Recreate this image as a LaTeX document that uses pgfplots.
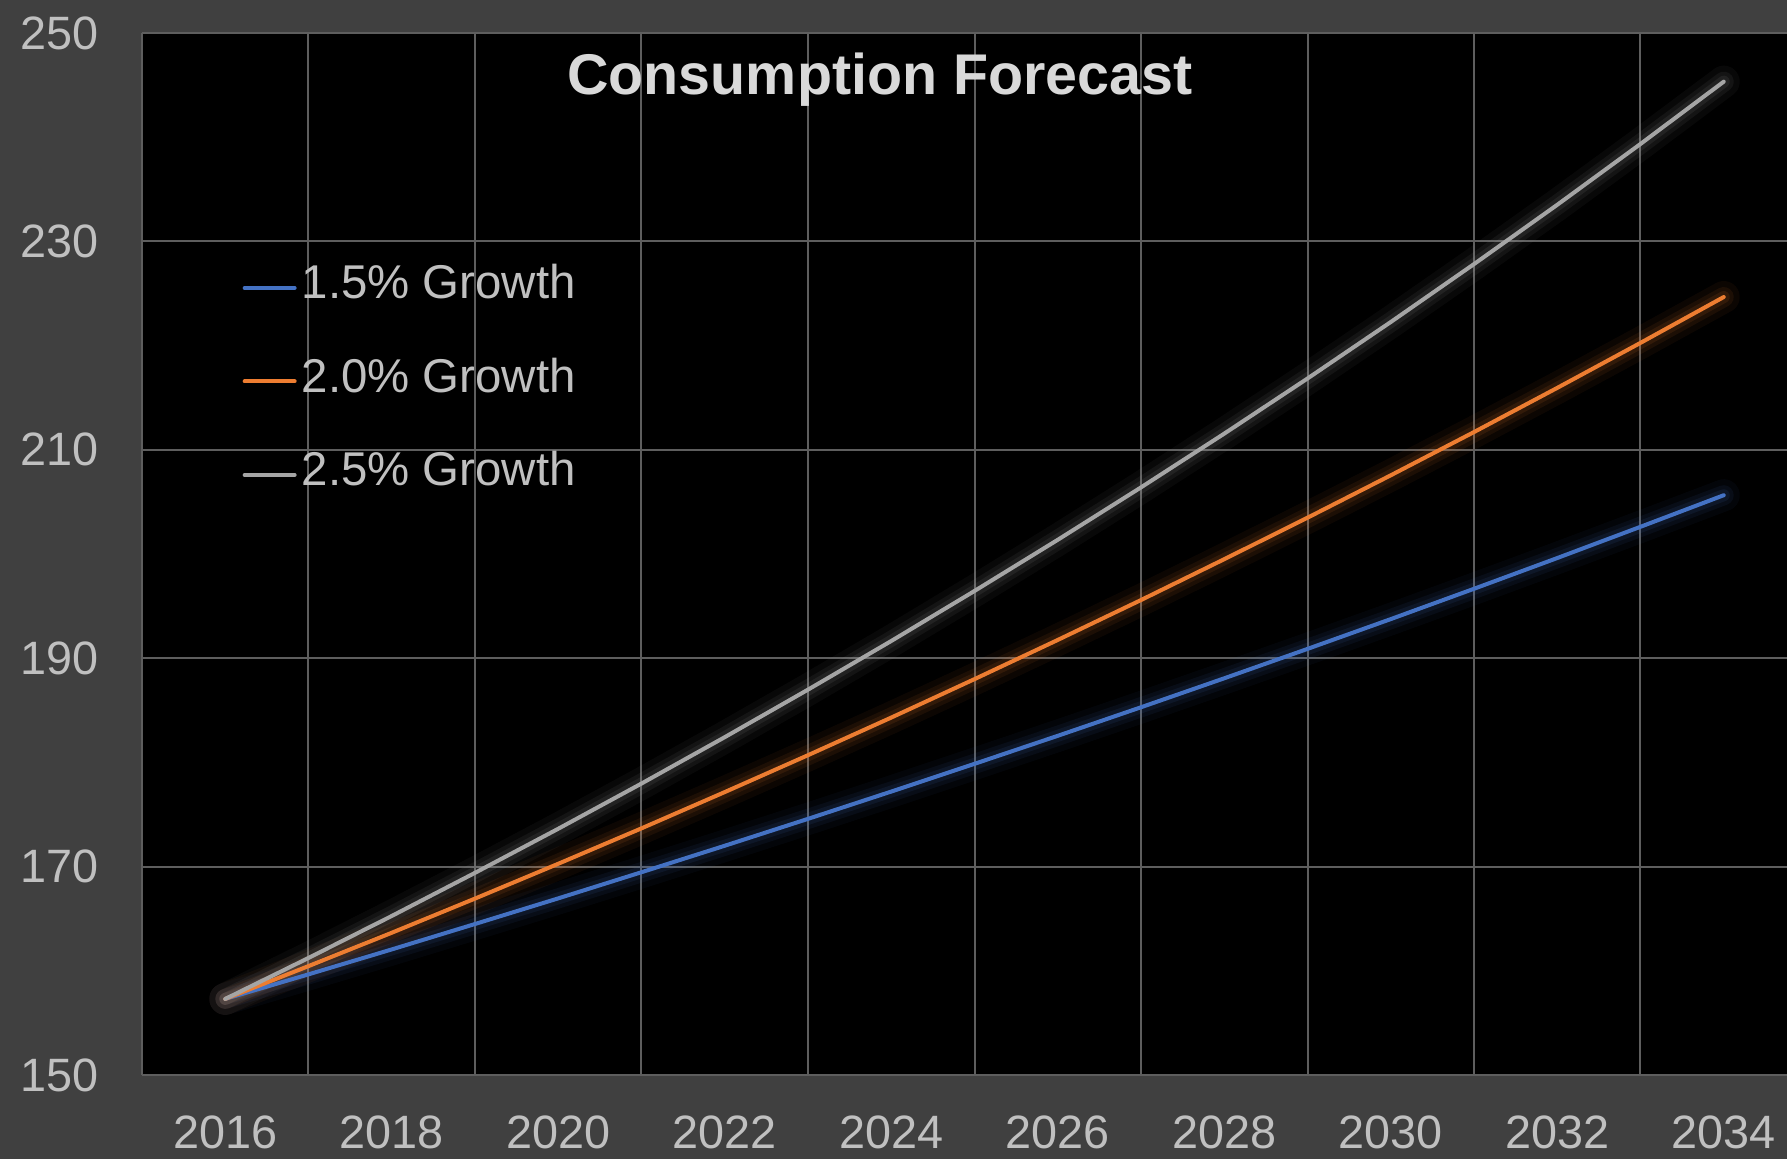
\documentclass[border=0pt]{standalone}
\usepackage{pgfplots}
\pgfplotsset{compat=1.18}
\usepackage{fontspec}
\setmainfont{Liberation Sans}
\definecolor{bgc}{HTML}{404040}
\definecolor{gridc}{HTML}{5E5E5E}
\definecolor{tickc}{HTML}{C0C0C0}
\definecolor{titc}{HTML}{D9D9D9}
\definecolor{sblue}{HTML}{4472C4}
\definecolor{sorange}{HTML}{ED7D31}
\definecolor{sgray}{HTML}{A5A5A5}
\pgfplotstableread{
year g15 g20 g25
2016 157.30 157.30 157.30
2017 159.66 160.45 161.23
2018 162.05 163.65 165.26
2019 164.49 166.93 169.40
2020 166.95 170.27 173.63
2021 169.46 173.67 177.97
2022 172.00 177.15 182.42
2023 174.58 180.69 186.98
2024 177.20 184.30 191.65
2025 179.86 187.99 196.45
2026 182.55 191.75 201.36
2027 185.29 195.58 206.39
2028 188.07 199.50 211.55
2029 190.89 203.48 216.84
2030 193.75 207.55 222.26
2031 196.66 211.70 227.82
2032 199.61 215.94 233.51
2033 202.61 220.26 239.35
2034 205.64 224.66 245.33
}\datatable
\begin{document}
\begin{tikzpicture}
\fill[bgc] (-71pt,-42pt) rectangle (822.5pt,537.5pt);
\useasboundingbox (-71pt,-42pt) rectangle (822.5pt,537.5pt);
\begin{axis}[
  at={(0pt,0pt)}, anchor=south west,
  scale only axis, width=822.5pt, height=521pt,
  xmin=2015, xmax=2034.76, ymin=150, ymax=250,
  axis background/.style={fill=black},
  axis line style={draw=none},
  xtick={2016,2018,...,2034},
  minor xtick={2015,2017,...,2033},
  ytick={150,170,...,250},
  xminorgrids=true, ymajorgrids=true, xmajorgrids=false,
  grid style={gridc, line width=1pt},
  minor grid style={gridc, line width=1pt},
  major tick length=0pt, minor tick length=0pt,
  tick style={draw=none},
  xticklabel={\pgfmathprintnumber[1000 sep={}]{\tick}},
  /pgf/number format/assume math mode=true,
  ticklabel style={font=\fontsize{23.4}{28}\selectfont, text=tickc, inner sep=0pt},
  xticklabel style={anchor=center, yshift=-28.5pt},
  yticklabel style={anchor=east, xshift=-21.5pt},
  legend style={at={(0.0573,0.7816)}, anchor=north west, draw=none, fill=none,
    font=\fontsize{23.7}{28}\selectfont, text=tickc,
    nodes={inner sep=0pt, text height=17pt, text depth=6pt},
    row sep=23.75pt, column sep=2.5pt},
  legend cell align=left,
  legend image code/.code={\draw[#1, line width=2pt] (0pt,0pt) -- (25pt,0pt);},
  every axis plot/.append style={line cap=round, line join=round},
  clip=true,
]
% glow layers
\addplot[sblue, line width=16pt, opacity=0.05, forget plot] table[x=year,y=g15]{\datatable};
\addplot[sblue, line width=10pt, opacity=0.08, forget plot] table[x=year,y=g15]{\datatable};
\addplot[sblue, line width=6pt, opacity=0.10, forget plot] table[x=year,y=g15]{\datatable};
\addplot[sorange, line width=16pt, opacity=0.05, forget plot] table[x=year,y=g20]{\datatable};
\addplot[sorange, line width=10pt, opacity=0.08, forget plot] table[x=year,y=g20]{\datatable};
\addplot[sorange, line width=6pt, opacity=0.10, forget plot] table[x=year,y=g20]{\datatable};
\addplot[sgray, line width=16pt, opacity=0.05, forget plot] table[x=year,y=g25]{\datatable};
\addplot[sgray, line width=10pt, opacity=0.08, forget plot] table[x=year,y=g25]{\datatable};
\addplot[sgray, line width=6pt, opacity=0.10, forget plot] table[x=year,y=g25]{\datatable};
% main lines
\addplot[sblue, line width=2pt] table[x=year,y=g15]{\datatable};
\addlegendentry{1.5\% Growth}
\addplot[sorange, line width=2pt] table[x=year,y=g20]{\datatable};
\addlegendentry{2.0\% Growth}
\addplot[sgray, line width=2pt] table[x=year,y=g25]{\datatable};
\addlegendentry{2.5\% Growth}
\node[font=\bfseries\fontsize{28.7}{34}\selectfont, text=titc, anchor=center, inner sep=0pt]
  at (rel axis cs:0.4486,0.9553) {Consumption Forecast};
\end{axis}
\end{tikzpicture}
\end{document}
